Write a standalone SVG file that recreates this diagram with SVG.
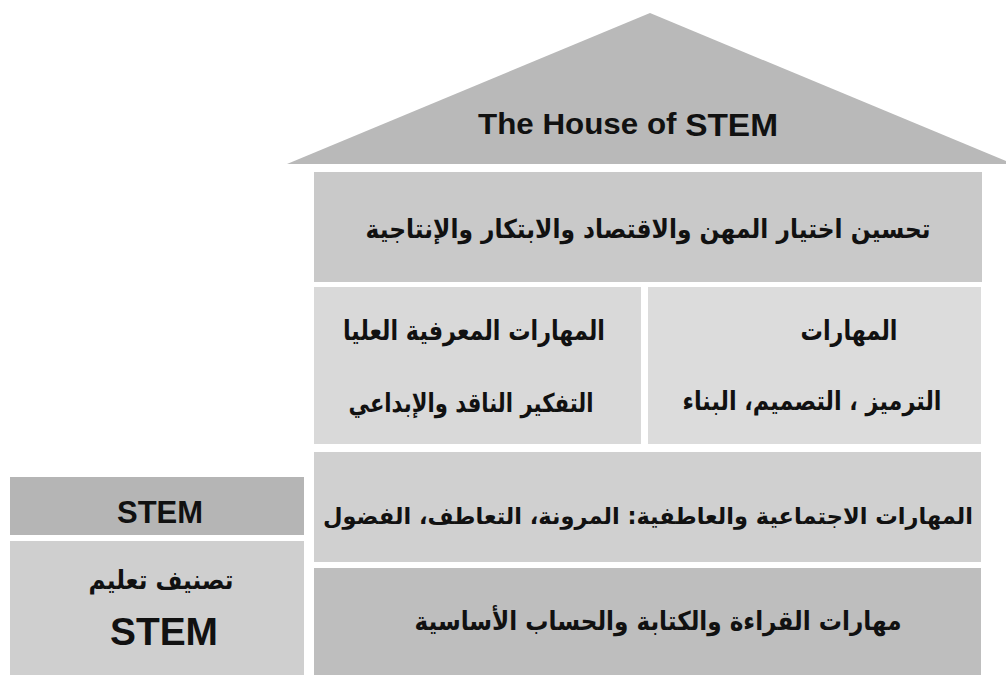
<svg xmlns="http://www.w3.org/2000/svg" width="1006" height="675" viewBox="0 0 1006 675">
  <style>
    .ar { font-family: "DejaVu Sans", "Noto Sans", sans-serif; font-weight: bold; fill: #111; text-anchor: middle; }
    .lat { font-family: "Liberation Sans", Arial, sans-serif; font-weight: bold; fill: #111; text-anchor: middle; }
  </style>
  <rect width="1006" height="675" fill="#ffffff"/>

  <!-- roof -->
  <g id="roof">
    <polygon points="650,13 287,164 1013,164" fill="#b9b9b9"/>
    <text class="lat" x="628" y="134" font-size="30" textLength="300" lengthAdjust="spacingAndGlyphs">The House of <tspan font-size="32" dy="2">STEM</tspan></text>
  </g>

  <!-- top floor -->
  <g id="outcomes">
    <rect x="314" y="172" width="668" height="110" fill="#c9c9c9"/>
    <text class="ar" x="648" y="238" font-size="26" direction="rtl" textLength="565" lengthAdjust="spacingAndGlyphs">تحسين اختيار المهن والاقتصاد والابتكار والإنتاجية</text>
  </g>

  <!-- second floor, two rooms -->
  <g id="higher-cognitive">
    <rect x="314" y="287" width="327" height="157" fill="#d9d9d9"/>
    <text class="ar" x="474" y="340" font-size="27" direction="rtl" textLength="262" lengthAdjust="spacingAndGlyphs">المهارات المعرفية العليا</text>
    <text class="ar" x="471" y="412" font-size="26" direction="rtl" textLength="245" lengthAdjust="spacingAndGlyphs">التفكير الناقد والإبداعي</text>
  </g>
  <g id="skills">
    <rect x="648" y="287" width="333" height="157" fill="#dcdcdc"/>
    <text class="ar" x="849" y="340" font-size="27" direction="rtl" textLength="97" lengthAdjust="spacingAndGlyphs">المهارات</text>
    <text class="ar" x="812" y="410" font-size="26" direction="rtl" textLength="259" lengthAdjust="spacingAndGlyphs">الترميز ، التصميم، البناء</text>
  </g>

  <!-- third floor -->
  <g id="social-emotional">
    <rect x="314" y="452" width="667" height="110" fill="#d0d0d0"/>
    <text class="ar" x="648" y="524" font-size="23" direction="rtl" textLength="650" lengthAdjust="spacingAndGlyphs">المهارات الاجتماعية والعاطفية: المرونة، التعاطف، الفضول</text>
  </g>

  <!-- foundation -->
  <g id="foundational">
    <rect x="314" y="568" width="667" height="107" fill="#bebebe"/>
    <text class="ar" x="658" y="630" font-size="26" direction="rtl" textLength="487" lengthAdjust="spacingAndGlyphs">مهارات القراءة والكتابة والحساب الأساسية</text>
  </g>

  <!-- side column -->
  <g id="stem-label">
    <rect x="10" y="477" width="294" height="58" fill="#b5b5b5"/>
    <text class="lat" x="160" y="523" font-size="31" textLength="86" lengthAdjust="spacingAndGlyphs">STEM</text>
  </g>
  <g id="stem-taxonomy">
    <rect x="10" y="541" width="294" height="134" fill="#cfcfcf"/>
    <text class="ar" x="161" y="589" font-size="26" direction="rtl" textLength="145" lengthAdjust="spacingAndGlyphs">تصنيف تعليم</text>
    <text class="lat" x="164" y="645" font-size="38" textLength="108" lengthAdjust="spacingAndGlyphs">STEM</text>
  </g>

  <g id="connectors"/>
</svg>
